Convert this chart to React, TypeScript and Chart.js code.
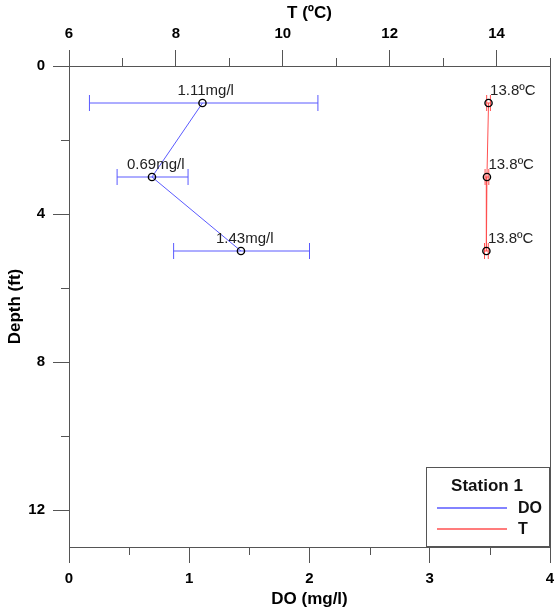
import React, { useEffect, useRef } from "react";
import { Chart, registerables } from "chart.js";

Chart.register(...registerables);

const depths = [1, 3, 5];
const doValues = [1.11, 0.69, 1.43];
const doLow = [0.17, 0.4, 0.87];
const doHigh = [2.07, 0.99, 2.0];
const doLabels = ["1.11mg/l", "0.69mg/l", "1.43mg/l"];
const tValues = [13.85, 13.82, 13.81];
const tLow = [13.815, 13.785, 13.775];
const tHigh = [13.885, 13.855, 13.845];
const tLabels = ["13.8ºC", "13.8ºC", "13.8ºC"];
const stationName = "Station 1";
const seriesNames = ["DO", "T"];

const BLUE = "rgb(90,90,255)";
const RED = "rgb(255,80,80)";
const AXIS = "#555";
const FONT = "'Liberation Sans', Arial, sans-serif";

const overlayPlugin = {
  id: "overlay",
  afterDatasetsDraw(chart: any) {
    const { ctx, chartArea } = chart;
    const xs = chart.scales.x;
    const xt = chart.scales.x2;
    const ys = chart.scales.y;
    ctx.save();
    // frame right border
    ctx.strokeStyle = AXIS;
    ctx.lineWidth = 1;
    ctx.beginPath();
    ctx.moveTo(Math.round(chartArea.right) + 0.5, chartArea.top);
    ctx.lineTo(Math.round(chartArea.right) + 0.5, chartArea.bottom);
    ctx.stroke();
    // minor ticks
    const minor = 8;
    ctx.beginPath();
    for (let v = 0.5; v < 4; v += 1) {
      const px = Math.round(xs.getPixelForValue(v)) + 0.5;
      ctx.moveTo(px, chartArea.bottom);
      ctx.lineTo(px, chartArea.bottom + minor);
    }
    for (let v = 7; v <= 15; v += 2) {
      const px = Math.round(xt.getPixelForValue(v)) + 0.5;
      ctx.moveTo(px, chartArea.top);
      ctx.lineTo(px, chartArea.top - minor);
    }
    for (let v = 2; v < 13; v += 4) {
      const py = Math.round(ys.getPixelForValue(v)) + 0.5;
      ctx.moveTo(chartArea.left, py);
      ctx.lineTo(chartArea.left - minor, py);
    }
    ctx.stroke();

    // error bars
    const drawErr = (scale: any, lo: number[], hi: number[], color: string) => {
      ctx.strokeStyle = color;
      ctx.lineWidth = 1;
      ctx.beginPath();
      for (let i = 0; i < depths.length; i++) {
        const py = ys.getPixelForValue(depths[i]);
        const x1 = scale.getPixelForValue(lo[i]);
        const x2 = scale.getPixelForValue(hi[i]);
        ctx.moveTo(x1, py);
        ctx.lineTo(x2, py);
        ctx.moveTo(x1, py - 8);
        ctx.lineTo(x1, py + 8);
        ctx.moveTo(x2, py - 8);
        ctx.lineTo(x2, py + 8);
      }
      ctx.stroke();
    };
    drawErr(xs, doLow, doHigh, BLUE);
    drawErr(xt, tLow, tHigh, RED);

    // points on top
    ctx.strokeStyle = "#000";
    ctx.lineWidth = 1.4;
    const drawPts = (scale: any, vals: number[]) => {
      for (let i = 0; i < vals.length; i++) {
        ctx.beginPath();
        ctx.arc(scale.getPixelForValue(vals[i]), ys.getPixelForValue(depths[i]), 3.6, 0, Math.PI * 2);
        ctx.stroke();
      }
    };
    drawPts(xs, doValues);
    drawPts(xt, tValues);

    // annotations
    ctx.fillStyle = "#222";
    ctx.font = `15px ${FONT}`;
    ctx.textAlign = "left";
    ctx.textBaseline = "middle";
    for (let i = 0; i < depths.length; i++) {
      const py = ys.getPixelForValue(depths[i]);
      ctx.fillText(doLabels[i], xs.getPixelForValue(doValues[i]) - 25, py - 12.5);
      ctx.fillText(tLabels[i], xt.getPixelForValue(tValues[i]) + 1.5, py - 12.5);
    }

    // legend
    const lx = 426.5, ly = 467.5, lw = 123, lh = 79;
    ctx.fillStyle = "#fff";
    ctx.fillRect(lx, ly, lw, lh);
    ctx.strokeStyle = AXIS;
    ctx.lineWidth = 1;
    ctx.strokeRect(lx, ly, lw, lh);
    ctx.fillStyle = "#111";
    ctx.font = `bold 17px ${FONT}`;
    ctx.textAlign = "center";
    ctx.fillText(stationName, 487, 486);
    ctx.font = `bold 16px ${FONT}`;
    ctx.textAlign = "left";
    const colors = [BLUE, RED];
    const rows = [508, 529];
    for (let i = 0; i < 2; i++) {
      ctx.strokeStyle = colors[i];
      ctx.lineWidth = 1.5;
      ctx.beginPath();
      ctx.moveTo(437, rows[i]);
      ctx.lineTo(507, rows[i]);
      ctx.stroke();
      ctx.fillText(seriesNames[i], 518, rows[i] + 1);
    }
    ctx.restore();
  },
};

export default function App() {
  const ref = useRef<HTMLCanvasElement>(null);
  useEffect(() => {
    if (!ref.current) return;
    const tickFont = { family: FONT, size: 15, weight: "bold" as const };
    const titleFont = { family: FONT, size: 17, weight: "bold" as const };
    const chart = new Chart(ref.current, {
      type: "scatter",
      data: {
        datasets: [
          {
            label: "DO",
            data: depths.map((d, i) => ({ x: doValues[i], y: d })),
            xAxisID: "x",
            yAxisID: "y",
            showLine: true,
            borderColor: BLUE,
            borderWidth: 1,
            pointRadius: 0,
          },
          {
            label: "T",
            data: depths.map((d, i) => ({ x: tValues[i], y: d })),
            xAxisID: "x2",
            yAxisID: "y",
            showLine: true,
            borderColor: RED,
            borderWidth: 1,
            pointRadius: 0,
          },
        ],
      },
      options: {
        responsive: false,
        animation: false,
        layout: { padding: { left: 0, right: 5, top: 0, bottom: 0 } },
        plugins: { legend: { display: false }, tooltip: { enabled: false } },
        scales: {
          x: {
            type: "linear",
            position: "bottom",
            min: 0,
            max: 4,
            ticks: { stepSize: 1, font: tickFont, color: "#000", padding: 7, includeBounds: false },
            grid: { display: true, drawOnChartArea: false, drawTicks: true, tickLength: 16, tickColor: AXIS },
            border: { display: true, color: AXIS },
            title: { display: true, text: "DO (mg/l)", font: titleFont, color: "#000", padding: { top: 0, bottom: 3 } },
            afterFit: (s: any) => { s.height = 66; s.paddingLeft = 0; s.paddingRight = 0; },
          },
          x2: {
            type: "linear",
            position: "top",
            min: 6,
            max: 15,
            ticks: { stepSize: 2, font: tickFont, color: "#000", padding: 7, includeBounds: false },
            grid: { display: true, drawOnChartArea: false, drawTicks: true, tickLength: 16, tickColor: AXIS },
            border: { display: true, color: AXIS },
            title: { display: true, text: "T (ºC)", font: titleFont, color: "#000", padding: { top: 3, bottom: 0 } },
            afterFit: (s: any) => { s.height = 66; s.paddingLeft = 0; s.paddingRight = 0; },
          },
          y: {
            type: "linear",
            position: "left",
            reverse: true,
            min: 0,
            max: 13,
            ticks: { stepSize: 4, font: tickFont, color: "#000", padding: 8, includeBounds: false },
            grid: { display: true, drawOnChartArea: false, drawTicks: true, tickLength: 16, tickColor: AXIS },
            border: { display: true, color: AXIS },
            title: { display: true, text: "Depth (ft)", font: titleFont, color: "#000", padding: { top: 5, bottom: 0 } },
            afterFit: (s: any) => { s.width = 69; s.paddingTop = 0; s.paddingBottom = 0; },
          },
        },
      },
      plugins: [overlayPlugin],
    });
    return () => chart.destroy();
  }, []);
  return (
    <div style={{ position: "absolute", left: 0, top: 0, width: 555, height: 613, background: "#fff" }}>
      <canvas ref={ref} width={555} height={613} style={{ display: "block" }} />
    </div>
  );
}
